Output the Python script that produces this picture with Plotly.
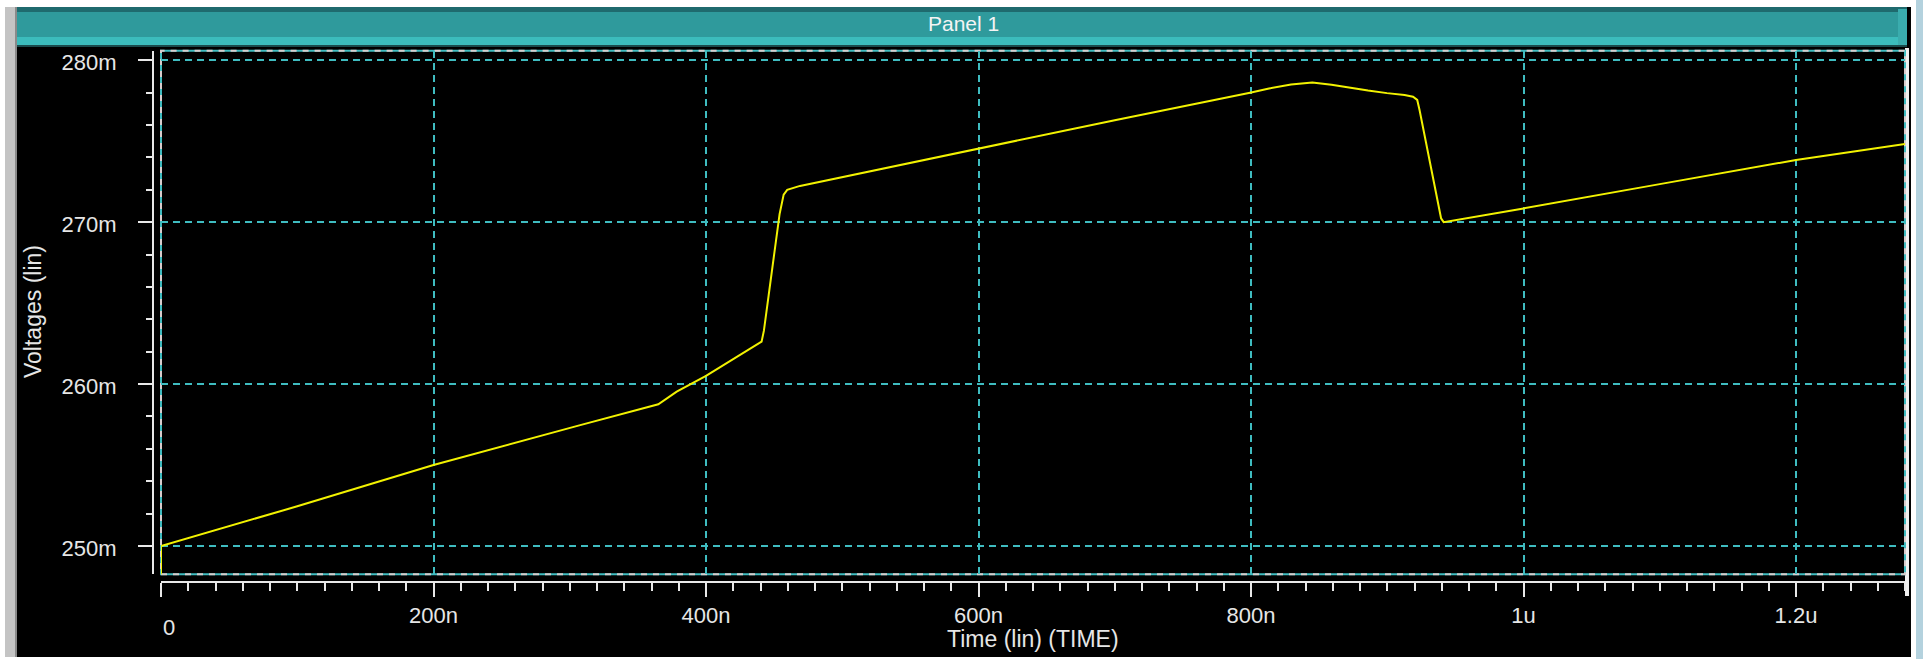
import plotly.graph_objects as go

# ---------------- data (time in ns, voltage in mV) ----------------
time_ns = [0, 0, 100, 200, 307, 365, 378.5, 400, 440.8, 442.5, 446, 450, 454, 457,
           459.6, 469, 542, 600, 700, 799.3, 813.2, 829.4, 845,
           859.1, 866.8, 877.8, 885.9, 899.8, 912.7, 918.9, 922, 923.7, 939.5,
           941.4, 1000, 1100, 1200, 1280]
volt_mv = [245.0, 250.0, 252.45, 255.0, 257.45, 258.75, 259.53, 260.5, 262.62, 263.3,
           265.5, 268.0, 270.5, 271.7, 272.0, 272.24, 273.53, 274.56, 276.3, 278.0,
           278.26, 278.5, 278.63, 278.49, 278.38, 278.24, 278.13, 277.97, 277.86,
           277.75, 277.55, 276.93, 270.24, 270.0, 270.85, 272.35, 273.84, 274.83]

x_tick_vals_ns = [0, 200, 400, 600, 800, 1000, 1200]
x_tick_text = ["", "200n", "400n", "600n", "800n", "1u", "1.2u"]
y_tick_vals_mv = [250, 260, 270, 280]
y_tick_text = ["250m", "260m", "270m", "280m"]

x_range_ns = [0, 1280]
y_range_mv = [248.25, 280.591]

t = [v * 1e-9 for v in time_ns]
v = [x * 1e-3 for x in volt_mv]
xt = [x * 1e-9 for x in x_tick_vals_ns]
yt = [y * 1e-3 for y in y_tick_vals_mv]
xr = [x * 1e-9 for x in x_range_ns]
yr = [y * 1e-3 for y in y_range_mv]

W, H = 1923, 659
def px(x):
    return x / W
def py(y):
    return 1 - y / H

FONT = "Liberation Sans, Arial, sans-serif"
TXT = "#e6e6e6"
CYAN = "#3fbcc0"

xdom = [px(161), px(1905)]
ydom = [py(574.3), py(50.7)]

fig = go.Figure()
fig.add_trace(go.Scatter(x=t, y=v, mode="lines", line=dict(color="#f2f200", width=2),
                         hoverinfo="skip", showlegend=False, xaxis="x", yaxis="y"))
fig.add_trace(go.Scatter(x=t, y=v, mode="lines", line=dict(color="rgba(0,0,0,0)", width=0),
                         hoverinfo="skip", showlegend=False, xaxis="x2", yaxis="y2"))

grid_common = dict(showgrid=True, gridcolor=CYAN, gridwidth=2, griddash="7px,5px",
                   zeroline=False, showline=False, ticks="", showticklabels=False,
                   tickmode="array")

fig.update_layout(
    width=W, height=H, autosize=False,
    margin=dict(l=0, r=0, t=0, b=0),
    paper_bgcolor="white", plot_bgcolor="rgba(0,0,0,0)",
    font=dict(family=FONT, size=22, color=TXT),
    xaxis=dict(domain=xdom, range=xr, tickvals=xt, anchor="y", **grid_common),
    yaxis=dict(domain=ydom, range=yr, tickvals=yt, anchor="x", **grid_common),
    xaxis2=dict(domain=xdom, range=xr, overlaying="x", anchor="free", position=py(581.7),
                side="bottom", showgrid=False, zeroline=False,
                showline=True, linecolor="#e8e8e8", linewidth=2,
                tickmode="array", tickvals=xt, ticktext=x_tick_text,
                ticks="outside", ticklen=14, tickwidth=2, tickcolor="#e8e8e8",
                tickfont=dict(family=FONT, size=22, color=TXT),
                minor=dict(tickmode="linear", tick0=0, dtick=20e-9, ticks="outside",
                           ticklen=8, tickwidth=2, tickcolor="#e8e8e8", showgrid=False)),
    yaxis2=dict(domain=ydom, range=yr, overlaying="y", anchor="free", position=px(153),
                side="left", showgrid=False, zeroline=False,
                showline=True, linecolor="#e8e8e8", linewidth=2,
                tickmode="array", tickvals=yt, ticktext=y_tick_text,
                ticks="outside", ticklen=14, tickwidth=2, tickcolor="#e8e8e8",
                ticklabelstandoff=17, ticklabelshift=2,
                tickfont=dict(family=FONT, size=22, color=TXT),
                minor=dict(tickmode="linear", tick0=0, dtick=0.002, ticks="outside",
                           ticklen=6, tickwidth=2, tickcolor="#e8e8e8", showgrid=False)),
)

def prect(x0, x1, y0, y1, color):
    return dict(type="rect", xref="paper", yref="paper", x0=px(x0), x1=px(x1),
                y0=py(y1), y1=py(y0), fillcolor=color, line=dict(width=0), layer="below")

shapes = [
    prect(15, 1911, 7, 657, "black"),             # window body
    prect(5, 15, 7, 657, "#c4c4c4"),              # left gray frame strip
    prect(15, 17, 7, 657, "#8a8a8a"),
    prect(1916, 1923, 0, 659, "#b4d2de"),         # right frame strip
    prect(17, 1907, 7, 47, "#2f9a9c"),            # title bar
    prect(17, 1907, 7, 12, "#1f6a6e"),
    prect(17, 1907, 37, 45, "#3cbcbc"),
    prect(1898, 1907, 9, 45, "#3aacae"),
    prect(17, 1907, 45, 47, "#1a4a4c"),
    prect(1905, 1909, 48, 596, "#f0f0f0"),        # right white edge line
    # plot border (cyan + light dashes)
    dict(type="rect", xref="paper", yref="paper", x0=xdom[0], x1=xdom[1], y0=ydom[0], y1=ydom[1],
         line=dict(color=CYAN, width=2), layer="below"),
    dict(type="rect", xref="paper", yref="paper", x0=xdom[0], x1=xdom[1], y0=ydom[0], y1=ydom[1],
         line=dict(color="#d8cccc", width=2, dash="6px,6px"), layer="below"),
]
fig.update_layout(shapes=shapes)

annotations = [
    dict(text="Panel 1", xref="paper", yref="paper", x=px(963), y=py(24),
         xanchor="center", yanchor="middle", showarrow=False,
         font=dict(family=FONT, size=21, color="#f4f4f4")),
    dict(text="0", xref="x", yref="paper", x=0, y=py(627), xanchor="left", yanchor="middle",
         showarrow=False, font=dict(family=FONT, size=22, color=TXT)),
    dict(text="Time (lin) (TIME)", xref="paper", yref="paper", x=px(1033), y=py(639),
         xanchor="center", yanchor="middle", showarrow=False,
         font=dict(family=FONT, size=23, color=TXT)),
    dict(text="Voltages (lin)", xref="paper", yref="paper", x=px(33), y=py(312),
         xanchor="center", yanchor="middle", textangle=-90, showarrow=False,
         font=dict(family=FONT, size=23, color=TXT)),
]
fig.update_layout(annotations=annotations)

fig.write_html("out.html", config={"displayModeBar": False},
               post_script="document.body.style.margin='0';document.body.style.overflow='hidden';")
